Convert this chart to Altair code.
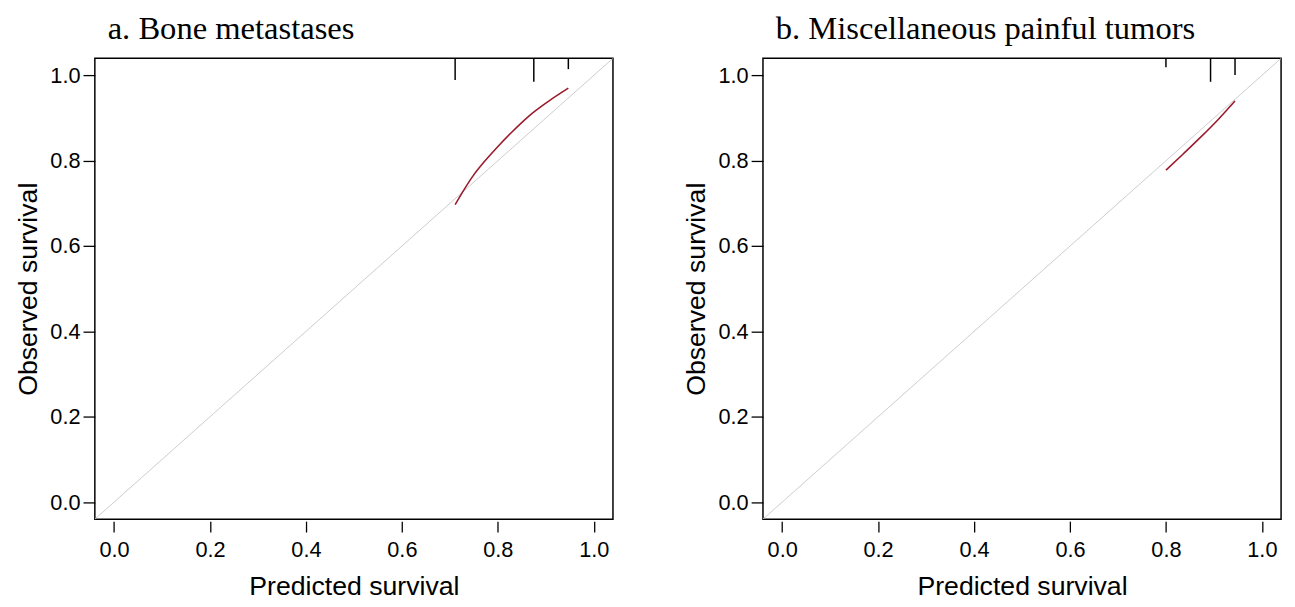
import altair as alt
import pandas as pd

DOMAIN = [-0.04, 1.04]
TICKS = [0.0, 0.2, 0.4, 0.6, 0.8, 1.0]

# Panel a: Bone metastases
a_pred = [0.711, 0.730, 0.748, 0.772, 0.795, 0.830, 0.863, 0.904, 0.947]
a_obs = [0.697, 0.733, 0.764, 0.798, 0.827, 0.868, 0.903, 0.938, 0.970]
a_rug_x = [0.711, 0.875, 0.947]
a_rug_freq = [0.92, 1.0, 0.46]

# Panel b: Miscellaneous painful tumors
b_pred = [0.800, 0.837, 0.874, 0.910, 0.944]
b_obs = [0.778, 0.817, 0.857, 0.898, 0.940]
b_rug_x = [0.800, 0.893, 0.944]
b_rug_freq = [0.375, 1.0, 0.71]

titles = ["a. Bone metastases", "b. Miscellaneous painful tumors"]

RED = "#9b1b2c"
SANS = "Liberation Sans"


def panel(title, pred, obs, rug_x, rug_freq):
    xs = alt.Scale(domain=DOMAIN, nice=False, zero=False)
    ys = alt.Scale(domain=DOMAIN, nice=False, zero=False)
    xaxis = alt.Axis(values=TICKS, format=".1f", grid=False, domain=False, offset=2,
                     tickSize=11, tickColor="black", tickWidth=1.3, labelFontSize=22,
                     labelFont=SANS, labelColor="black", labelPadding=8,
                     title="Predicted survival", titleFont=SANS, titleFontSize=27,
                     titleFontWeight="normal", titleColor="black", titlePadding=13)
    yaxis = alt.Axis(values=TICKS, format=".1f", grid=False, domain=False, offset=0,
                     tickSize=12, tickColor="black", tickWidth=1.3, labelFontSize=22,
                     labelFont=SANS, labelColor="black", labelPadding=3,
                     title="Observed survival", titleFont=SANS, titleFontSize=27,
                     titleFontWeight="normal", titleColor="black", titlePadding=8)

    diag = pd.DataFrame({"x": DOMAIN, "y": DOMAIN})
    diag_layer = alt.Chart(diag).mark_line(color="#cccccc", strokeWidth=1, clip=True).encode(
        x=alt.X("x:Q", scale=xs, axis=xaxis),
        y=alt.Y("y:Q", scale=ys, axis=yaxis),
    )
    cal = pd.DataFrame({"x": pred, "y": obs})
    cal_layer = alt.Chart(cal).mark_line(color=RED, strokeWidth=1.6, interpolate="monotone").encode(
        x=alt.X("x:Q", scale=xs), y=alt.Y("y:Q", scale=ys)
    )
    rug = pd.DataFrame({"x": rug_x, "f": rug_freq})
    rug_layer = alt.Chart(rug).transform_calculate(
        top=str(DOMAIN[1]), bot=f"{DOMAIN[1]} - 0.055*datum.f"
    ).mark_rule(color="black", strokeWidth=1.5).encode(
        x=alt.X("x:Q", scale=xs),
        y=alt.Y("top:Q", scale=ys),
        y2="bot:Q",
    )
    return alt.layer(diag_layer, cal_layer, rug_layer).properties(
        width=525, height=467,
        title=alt.TitleParams(title, anchor="start", frame="group", dx=13,
                              font="Liberation Serif", fontSize=33, fontWeight="normal",
                              color="black", offset=12),
    )


chart = alt.hconcat(
    panel(titles[0], a_pred, a_obs, a_rug_x, a_rug_freq),
    panel(titles[1], b_pred, b_obs, b_rug_x, b_rug_freq),
    spacing=68,
).configure(background="white",
            padding={"left": 5, "top": 0, "right": 5, "bottom": 5}
            ).configure_view(stroke="black", strokeWidth=1.5)

chart.save("out.html", embed_options={"renderer": "svg", "actions": False})
